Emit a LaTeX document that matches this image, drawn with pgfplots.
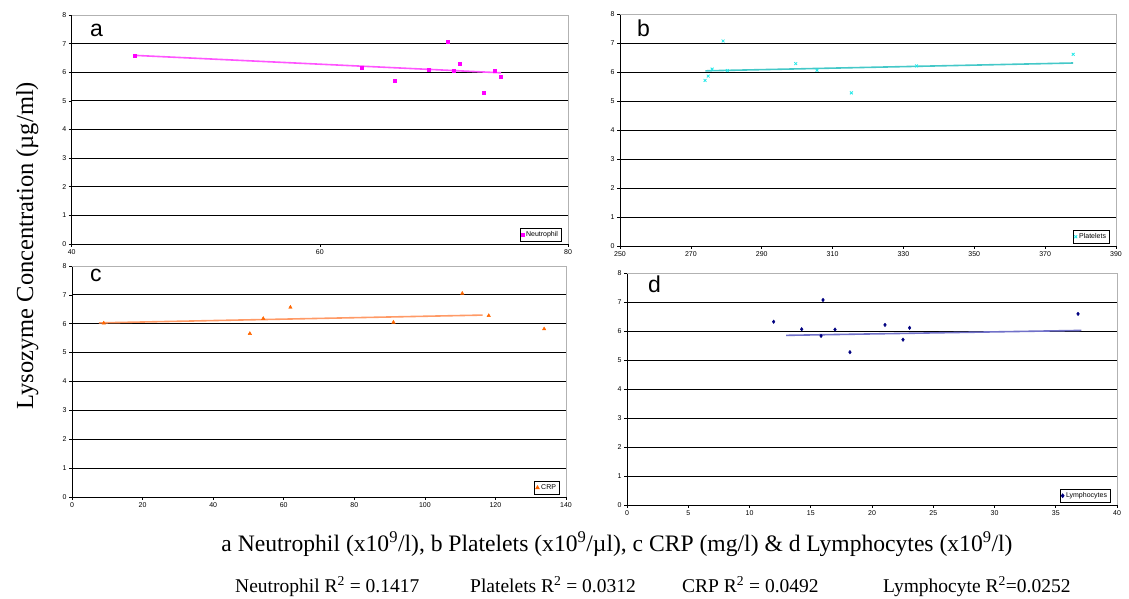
\documentclass[border=0pt]{standalone}
\usepackage{pgfplots}
\pgfplotsset{compat=1.18}
\usepackage{fontspec}
\setmainfont{Liberation Serif}
\newfontfamily\arial{Liberation Sans}
\definecolor{magm}{HTML}{FF00FF}
\definecolor{magt}{HTML}{FF55FF}
\definecolor{cyam}{HTML}{22E8E8}
\definecolor{cyat}{HTML}{44C8C8}
\definecolor{orgm}{HTML}{FF6600}
\definecolor{orgt}{HTML}{FF9A66}
\definecolor{navm}{HTML}{000080}
\definecolor{navt}{HTML}{7070C8}

\pgfplotstableread{
x y
45.07 6.59
63.4 6.16
66.0 5.69
68.8 6.09
70.3 7.06
70.8 6.06
71.3 6.29
73.2 5.28
74.1 6.06
74.6 5.84
}\neut
\pgfplotstableread{
x y
274.0 5.71
274.9 5.86
276.0 6.10
279.1 7.07
280.3 6.05
299.6 6.29
305.6 6.06
315.3 5.28
333.7 6.21
377.9 6.61
}\plat
\pgfplotstableread{
x y
9.0 6.02
50.4 5.66
54.2 6.18
61.9 6.57
91.1 6.05
110.6 7.05
118.1 6.28
133.8 5.82
}\crp
\pgfplotstableread{
x y
11.97 6.32
14.26 6.06
15.84 5.83
16.0 7.07
16.98 6.05
18.2 5.27
21.06 6.21
22.53 5.70
23.07 6.11
36.82 6.59
}\lymph

\pgfplotsset{panel/.style={
  scale only axis, anchor=south west,
  ymin=0, ymax=8, ytick={0,...,8},
  axis x line*=bottom, axis y line*=left,
  axis line style={black,-,line width=0.8pt},
  extra y ticks={1,2,3,4,5,6,7}, extra y tick labels={},
  extra y tick style={grid=major, major tick length=0pt},
  grid style={black,line width=0.8pt},
  tick align=outside, major tick length=3pt,
  tick style={black,line width=0.6pt},
  ticklabel style={font=\arial\fontsize{7}{8}\selectfont},
  /pgf/number format/assume math mode=true,
  scaled ticks=false,
  xticklabel style={yshift=1pt},
  yticklabel style={xshift=1pt},
  legend style={at={(1,0)}, anchor=south east, xshift=-7pt, yshift=3pt,
    draw=black, line width=0.8pt, font=\arial\fontsize{7}{8}\selectfont,
    inner sep=1pt, outer sep=0pt, legend cell align=left},
  legend image code/.code={\draw[mark repeat=2,mark phase=2,##1] plot coordinates {(0pt,0pt) (3pt,0pt) (6pt,0pt)};},
  after end axis/.code={\draw[gray!60,line width=0.8pt] (rel axis cs:0,1) -- (rel axis cs:1,1) -- (rel axis cs:1,0);},
}}

\begin{document}
\begin{tikzpicture}
\path[use as bounding box] (0pt,0pt) rectangle (1129pt,599pt);

% panel a
\begin{axis}[panel, at={(71.7pt,355pt)}, width=496.3pt, height=229pt,
  xmin=40, xmax=80, xtick={40,60,80}]
\addplot[magt, line width=1.6pt, forget plot] coordinates {(45.07,6.59) (74.6,5.98)};
\addplot[only marks, mark=square*, mark size=1.5pt, color=magm] table[x=x,y=y] {\neut};
\addlegendentry{Neutrophil}
\end{axis}

% panel b
\begin{axis}[panel, at={(620pt,353pt)}, width=496pt, height=232pt,
  xmin=250, xmax=390, xtick={250,270,...,390}]
\addplot[cyat, line width=1.6pt, forget plot] coordinates {(274.1,6.04) (377.9,6.31)};
\addplot[only marks, mark=x, mark size=2pt, color=cyam, line width=0.8pt] table[x=x,y=y] {\plat};
\addlegendentry{Platelets}
\end{axis}

% panel c
\begin{axis}[panel, at={(72pt,102pt)}, width=494pt, height=231pt,
  xmin=0, xmax=140, xtick={0,20,...,140}]
\addplot[orgt, line width=1.6pt, forget plot] coordinates {(7.6,6.03) (116.4,6.30)};
\addplot[only marks, mark=triangle*, mark size=2pt, color=orgm] table[x=x,y=y] {\crp};
\addlegendentry{CRP}
\end{axis}

% panel d
\begin{axis}[panel, at={(627pt,94pt)}, width=490pt, height=232pt,
  xmin=0, xmax=40, xtick={0,5,...,40}]
\addplot[navt, line width=1.6pt, forget plot] coordinates {(12.98,5.85) (37.09,6.02)};
\addplot[only marks, mark=diamond*, mark size=1.8pt, color=navm] table[x=x,y=y] {\lymph};
\addlegendentry{Lymphocytes}
\end{axis}

% panel letters
\node[anchor=base west, inner sep=0pt, font=\arial\fontsize{23}{23}\selectfont] at (90pt,562pt) {a};
\node[anchor=base west, inner sep=0pt, font=\arial\fontsize{23}{23}\selectfont] at (637pt,562pt) {b};
\node[anchor=base west, inner sep=0pt, font=\arial\fontsize{23}{23}\selectfont] at (90pt,317pt) {c};
\node[anchor=base west, inner sep=0pt, font=\arial\fontsize{23}{23}\selectfont] at (648pt,306pt) {d};

% y label
\node[rotate=90, anchor=base, inner sep=0pt, font=\fontsize{24.5}{24.5}\selectfont] at (33pt,353.5pt) {Lysozyme Concentration (µg/ml)};

% x label
\node[anchor=base, inner sep=0pt, font=\fontsize{23.6}{23.6}\selectfont] at (617pt,47pt)
  {a Neutrophil (x10\textsuperscript{9}/l), b Platelets (x10\textsuperscript{9}/µl), c CRP (mg/l) \& d Lymphocytes (x10\textsuperscript{9}/l)};

% R^2 line
\node[anchor=base west, inner sep=0pt, font=\fontsize{19.5}{19.5}\selectfont] at (235pt,6pt) {Neutrophil R\textsuperscript{2} = 0.1417};
\node[anchor=base west, inner sep=0pt, font=\fontsize{19.5}{19.5}\selectfont] at (470pt,6pt) {Platelets R\textsuperscript{2} = 0.0312};
\node[anchor=base west, inner sep=0pt, font=\fontsize{19.5}{19.5}\selectfont] at (682pt,6pt) {CRP R\textsuperscript{2} = 0.0492};
\node[anchor=base west, inner sep=0pt, font=\fontsize{19.5}{19.5}\selectfont] at (883pt,6pt) {Lymphocyte R\textsuperscript{2}=0.0252};
\end{tikzpicture}
\end{document}
